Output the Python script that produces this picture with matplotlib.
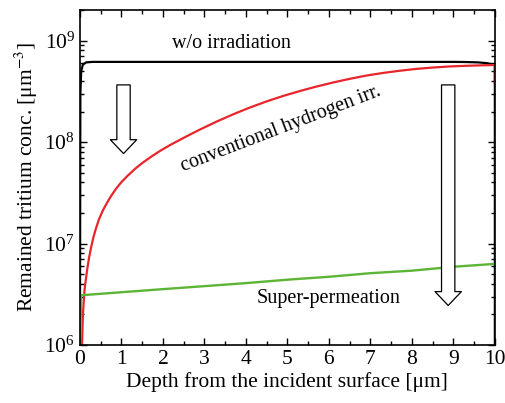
import numpy as np
import matplotlib
matplotlib.use('Agg')
import matplotlib.pyplot as plt
from matplotlib.ticker import LogLocator, LogFormatterMathtext, MultipleLocator, NullFormatter

plt.rcParams['font.family'] = ['Liberation Serif', 'DejaVu Serif']
plt.rcParams['mathtext.fontset'] = 'stix'

# w/o irradiation
x_black = [0, 0.01, 0.03, 0.07, 0.15, 0.3, 1, 3, 5, 7, 9, 9.3, 9.6, 9.8, 9.95, 10, 10]
c_black = [1e6, 3e8, 5e8, 5.8e8, 6.1e8, 6.17e8, 6.17e8, 6.17e8, 6.17e8, 6.17e8, 6.17e8,
           6.15e8, 6.1e8, 6.0e8, 5.85e8, 5.75e8, 1e6]

# conventional hydrogen irradiation
x_red = [0.05, 0.07, 0.09, 0.11, 0.14, 0.18, 0.22, 0.27, 0.33, 0.39, 0.46, 0.55, 0.65,
         0.75, 0.87, 1.0, 1.15, 1.32, 1.5, 1.72, 1.95, 2.2, 2.6, 2.9, 3.3, 3.69, 4.1,
         4.5, 4.9, 5.3, 5.7, 6.1, 6.5, 6.91, 7.3, 7.71, 8.1, 8.51, 8.9, 9.32, 9.7, 10.0, 10.0]
c_red = [1.0e6, 1.91e6, 2.63e6, 3.47e6, 4.37e6, 5.75e6, 7.24e6, 9.23e6, 1.175e7, 1.429e7,
         1.738e7, 2.11e7, 2.51e7, 2.94e7, 3.47e7, 4.03e7, 4.66e7, 5.41e7, 6.21e7, 7.19e7,
         8.28e7, 9.48e7, 1.156e8, 1.334e8, 1.596e8, 1.875e8, 2.193e8, 2.518e8, 2.851e8,
         3.184e8, 3.524e8, 3.864e8, 4.198e8, 4.529e8, 4.797e8, 5.047e8, 5.26e8, 5.43e8,
         5.56e8, 5.65e8, 5.71e8, 5.75e8, 3.8e8]

# super-permeation
x_green = [0, 0.03, 1, 2, 3, 4, 5, 6, 7, 8, 9, 10]
c_green = [1e6, 3.09e6, 3.31e6, 3.55e6, 3.8e6, 4.07e6, 4.4e6, 4.7e6, 5.1e6, 5.4e6, 5.9e6, 6.3e6]

fig = plt.figure(figsize=(5.06, 4.03), dpi=100)
ax = fig.add_axes([0.158, 0.144, 0.82, 0.831])

ax.plot(x_black, c_black, color='black', lw=1.6)
ax.plot(x_red, c_red, color='#e8252b', lw=1.6)
ax.plot(x_green, c_green, color='#5db535', lw=1.7)

ax.set_yscale('log')
ax.set_xlim(0, 10)
ax.set_ylim(1e6, 2e9)

ax.xaxis.set_major_locator(MultipleLocator(1))
ax.xaxis.set_minor_locator(MultipleLocator(0.5))
ax.yaxis.set_major_locator(LogLocator(base=10, numticks=10))
ax.yaxis.set_minor_locator(LogLocator(base=10, subs=np.arange(2, 10), numticks=20))
ax.yaxis.set_major_formatter(LogFormatterMathtext())
ax.yaxis.set_minor_formatter(NullFormatter())
ax.tick_params(which='both', direction='in', top=True, right=True, labelsize=15.5, width=1)
ax.tick_params(which='major', length=5)
ax.tick_params(which='minor', length=3)
for s in ax.spines.values():
    s.set_linewidth(1.2)

ax.set_xlabel('Depth from the incident surface [\u03bcm]', fontsize=15.5, labelpad=2)
ax.set_ylabel('Remained tritium conc. [\u03bcm$^{-3}$]', fontsize=15.5, labelpad=3)

ax.text(3.64, 9.3e8, 'w/o irradiation', fontsize=14.5, ha='center', va='center')
ax.text(4.85, 1.36e8, 'conventional hydrogen irr.', fontsize=14.5, ha='center', va='center',
        rotation=21, rotation_mode='anchor')
ax.text(6.0, 2.9e6, 'Super-permeation', fontsize=14.5, ha='center', va='center')

# hollow down arrows
arrows = [(1.05, 3.66e8, 7.7e7), (8.875, 3.66e8, 2.45e6)]
for ax_x, y_top, y_tip in arrows:
    ax.annotate('', xy=(ax_x, y_tip), xytext=(ax_x, y_top),
                arrowprops=dict(arrowstyle='simple,head_length=0.5,head_width=0.95,tail_width=0.48',
                                fc='white', ec='black', lw=0.9, shrinkA=0, shrinkB=0,
                                mutation_scale=20))

fig.savefig('out.png', dpi=100)
